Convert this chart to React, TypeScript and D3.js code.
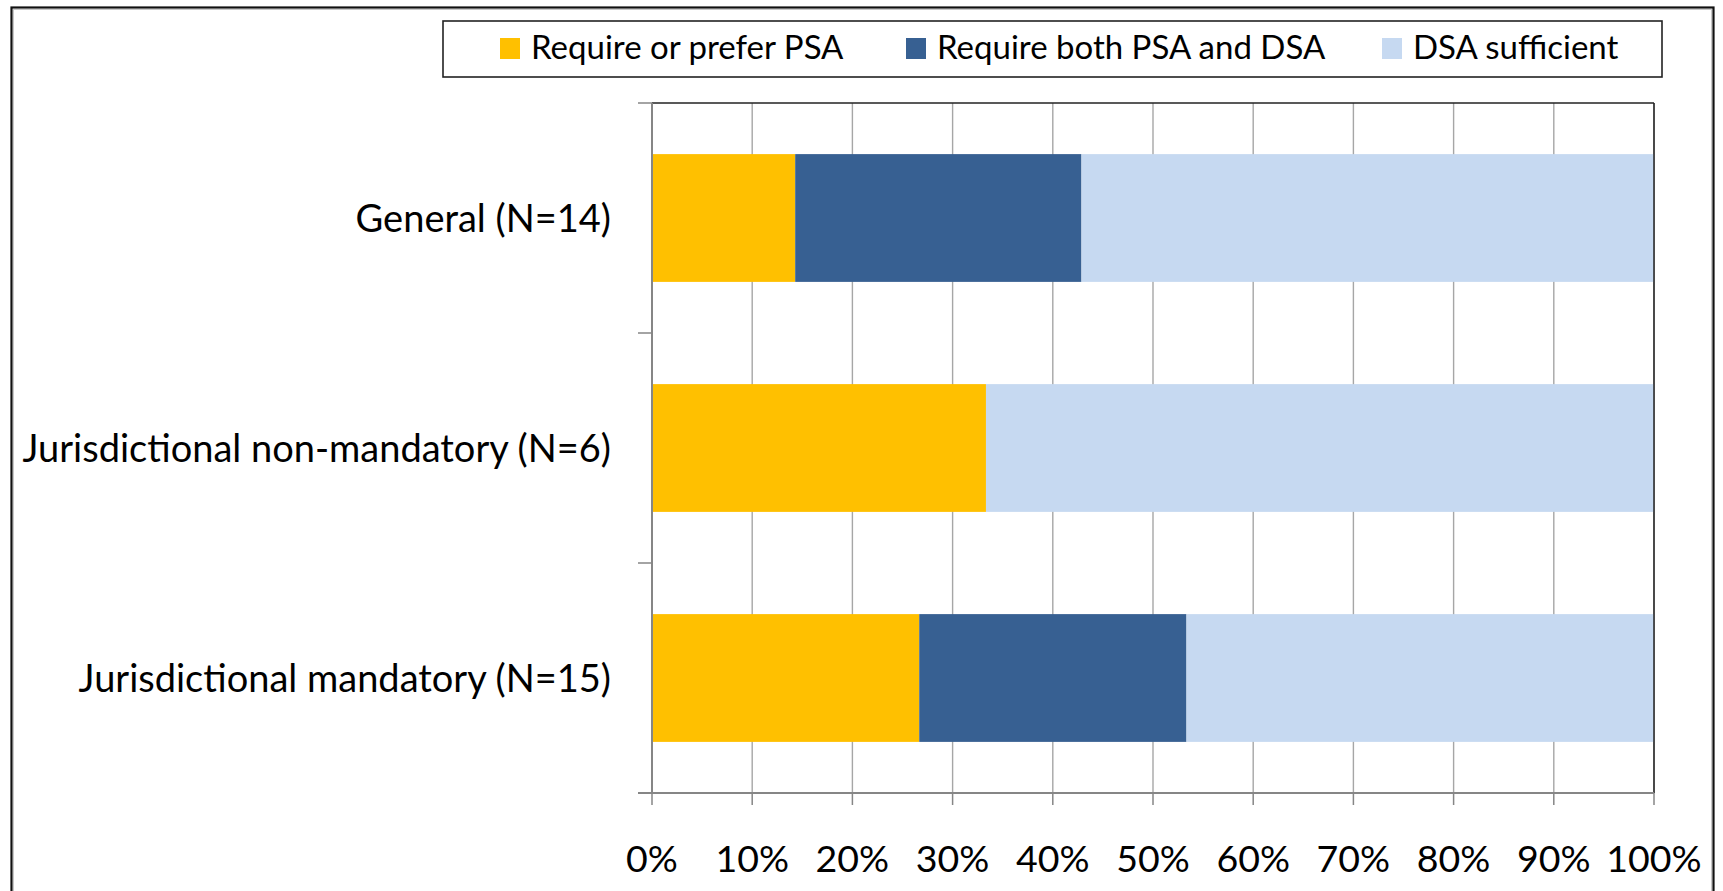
import React from 'react';
import * as d3 from 'd3';

const categories = [
  'General (N=14)',
  'Jurisdictional non-mandatory (N=6)',
  'Jurisdictional mandatory (N=15)',
];
const seriesNames = ['Require or prefer PSA', 'Require both PSA and DSA', 'DSA sufficient'];
const requirePSA = [14.29, 33.33, 26.67];
const requireBoth = [28.57, 0, 26.67];
const dsaSufficient = [57.14, 66.67, 46.66];
const xTickValues = [0, 10, 20, 30, 40, 50, 60, 70, 80, 90, 100];
const seriesColors = ['#FFC000', '#376092', '#C6D9F1'];

const W = 1723;
const H = 891;
const plot = { left: 652, right: 1654, top: 103, bottom: 793 };
const FONT = 'Lato, "Open Sans", sans-serif';

export default function App() {
  const x = d3.scaleLinear().domain([0, 100]).range([plot.left, plot.right]);
  const y = d3
    .scaleBand<string>()
    .domain(categories)
    .range([plot.top, plot.bottom])
    .paddingInner(0.8 / 1.8)
    .paddingOuter(0.4 / 1.8);

  const rows = categories.map((c, i) => ({
    cat: c,
    s0: requirePSA[i],
    s1: requireBoth[i],
    s2: dsaSufficient[i],
  }));
  const keys = ['s0', 's1', 's2'];
  const stacked = d3.stack<any>().keys(keys)(rows);

  const step = y.step();
  const boundaries = categories.map((_, i) => plot.top + i * step).concat([plot.bottom]);

  const legendItems = [
    { marker: 500, text: 531 },
    { marker: 906, text: 937 },
    { marker: 1382, text: 1413 },
  ];

  return (
    <svg
      width={W}
      height={H}
      style={{ position: 'absolute', left: 0, top: 0, background: '#fff' }}
      fontFamily={FONT}
    >
      <rect x={0} y={0} width={W} height={H} fill="#fff" />
      {/* outer chart border */}
      <rect x={11.5} y={7.5} width={1702} height={900} fill="none" stroke="#111" strokeWidth={2.2} />
      <rect x={13.5} y={9.5} width={1698} height={900} fill="none" stroke="#c8c8c8" strokeWidth={1} />

      {/* gridlines */}
      {xTickValues.map((t) => (
        <line key={'g' + t} x1={x(t)} x2={x(t)} y1={plot.top} y2={plot.bottom} stroke="#a6a6a6" strokeWidth={1.4} />
      ))}

      {/* bars */}
      {stacked.map((layer, si) =>
        layer.map((d, ci) => (
          <rect
            key={si + '-' + ci}
            x={x(d[0])}
            y={y(categories[ci])}
            width={Math.max(0, x(d[1]) - x(d[0]))}
            height={y.bandwidth()}
            fill={seriesColors[si]}
          />
        ))
      )}

      {/* plot border top/right */}
      <line x1={plot.left} x2={plot.right} y1={plot.top} y2={plot.top} stroke="#222" strokeWidth={1.5} />
      <line x1={plot.right} x2={plot.right} y1={plot.top} y2={plot.bottom} stroke="#222" strokeWidth={1.5} />

      {/* y axis */}
      <line x1={plot.left} x2={plot.left} y1={plot.top} y2={plot.bottom} stroke="#868686" strokeWidth={2} />
      {boundaries.map((b, i) => (
        <line key={'yt' + i} x1={plot.left - 14} x2={plot.left} y1={b} y2={b} stroke="#868686" strokeWidth={1.5} />
      ))}
      {categories.map((c) => (
        <text
          key={c}
          x={611}
          y={(y(c) as number) + y.bandwidth() / 2}
          dy="0.36em"
          textAnchor="end"
          fontSize={38}
          fill="#000"
        >
          {c}
        </text>
      ))}

      {/* x axis */}
      <line x1={plot.left - 14} x2={plot.right} y1={plot.bottom} y2={plot.bottom} stroke="#868686" strokeWidth={2} />
      {xTickValues.map((t) => (
        <g key={'xt' + t}>
          <line x1={x(t)} x2={x(t)} y1={plot.bottom} y2={plot.bottom + 12} stroke="#868686" strokeWidth={1.5} />
          <text x={x(t)} y={872} textAnchor="middle" fontSize={37.5} fill="#000">
            {t + '%'}
          </text>
        </g>
      ))}

      {/* legend */}
      <rect x={443} y={21} width={1219} height={56} fill="#fff" stroke="#222" strokeWidth={1.6} />
      {seriesNames.map((s, i) => (
        <g key={s}>
          <rect x={legendItems[i].marker} y={38} width={20} height={21} fill={seriesColors[i]} />
          <text x={legendItems[i].text} y={58.5} fontSize={33} fill="#000">
            {s}
          </text>
        </g>
      ))}
    </svg>
  );
}
